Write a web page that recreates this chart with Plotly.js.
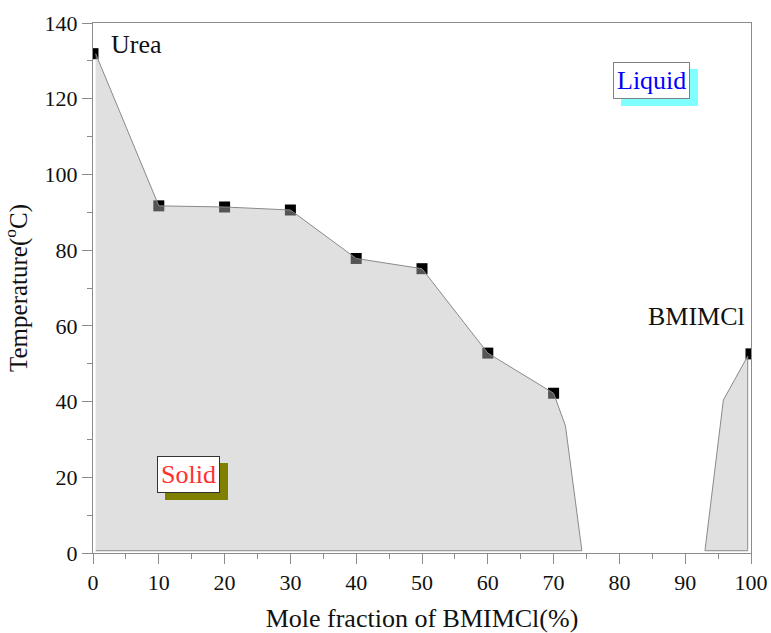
<!DOCTYPE html>
<html>
<head>
<meta charset="utf-8">
<script src="https://cdn.plot.ly/plotly-3.0.1.min.js"></script>
<style>html,body{margin:0;padding:0;background:#fff;}#chart{width:771px;height:633px;}</style>
</head>
<body>
<div id="chart"></div>
<script>
// Measured compositions (mol % BMIMCl) and melting temperatures (°C)
const moleFraction = [0, 10, 20, 30, 40, 50, 60, 70, 100];
const meltingTemp = [131.9, 91.7, 91.4, 90.6, 77.8, 75.1, 52.8, 42.2, 52.6];

// Solid-region boundary, urea-rich side
const solidLeftX = [0.4, 10, 20, 30, 40, 50, 60, 70, 71.8, 74.3];
const solidLeftY = [131.9, 91.7, 91.4, 90.6, 77.8, 75.1, 52.8, 42.2, 33.6, 0.6];

// Solid-region boundary, BMIMCl-rich side
const solidRightX = [93.0, 95.8, 99.5, 99.5];
const solidRightY = [0.6, 40.4, 52.0, 0.6];

const xTicks = [0, 10, 20, 30, 40, 50, 60, 70, 80, 90, 100];
const yTicks = [0, 20, 40, 60, 80, 100, 120, 140];

const FONT = '"Liberation Serif", serif';
const fillCol = 'rgba(187,187,187,0.455)';
const edgeCol = '#8a8a8a';

const traces = [
  {
    x: moleFraction, y: meltingTemp, type: 'scatter', mode: 'markers',
    marker: {symbol: 'square', size: 11, color: '#000'},
    cliponaxis: true, hoverinfo: 'x+y', showlegend: false
  },
  {
    x: solidLeftX.concat([solidLeftX[0]]),
    y: solidLeftY.concat([solidLeftY[solidLeftY.length - 1]]),
    type: 'scatter', mode: 'lines', fill: 'toself', fillcolor: fillCol,
    line: {color: edgeCol, width: 1}, hoverinfo: 'skip', showlegend: false
  },
  {
    x: solidRightX.concat([solidRightX[0]]),
    y: solidRightY.concat([solidRightY[0]]),
    type: 'scatter', mode: 'lines', fill: 'toself', fillcolor: fillCol,
    line: {color: edgeCol, width: 1}, hoverinfo: 'skip', showlegend: false
  }
];

function boxLabel(text, x, y, color, shadow, border) {
  return [
    {x: x, y: y, xref: 'x', yref: 'y', text: text, showarrow: false,
     xshift: 7.5, yshift: -7.5,
     font: {family: FONT, size: 26, color: shadow}, bgcolor: shadow,
     borderpad: 3, borderwidth: 1, bordercolor: shadow},
    {x: x, y: y, xref: 'x', yref: 'y', text: text, showarrow: false,
     font: {family: FONT, size: 26, color: color}, bgcolor: '#ffffff',
     borderpad: 3, borderwidth: 1, bordercolor: border}
  ];
}

const annotations = [
  {x: 2.5, y: 134.4, xref: 'x', yref: 'y', text: 'Urea', showarrow: false,
   xanchor: 'left', yanchor: 'middle', font: {family: FONT, size: 26, color: '#111'}},
  {x: 99.4, y: 62.6, xref: 'x', yref: 'y', text: 'BMIMCl', showarrow: false,
   xanchor: 'right', yanchor: 'middle', font: {family: FONT, size: 26, color: '#111'}}
].concat(boxLabel('Liquid', 84.95, 124.9, '#0000ff', '#80ffff', '#808080'))
 .concat(boxLabel('Solid', 14.56, 20.8, '#ff3030', '#808000', '#333333'));

const axisCommon = {
  showline: true, linecolor: '#8c8c8c', linewidth: 1, mirror: true,
  ticks: 'outside', ticklen: 10, tickcolor: '#8c8c8c', tickwidth: 1,
  showgrid: false, zeroline: false, fixedrange: true,
  tickfont: {family: FONT, size: 22, color: '#111'}
};

const layout = {
  width: 771, height: 633,
  margin: {l: 93, r: 20, t: 23, b: 80},
  paper_bgcolor: '#fff', plot_bgcolor: '#fff',
  font: {family: FONT, color: '#111'},
  xaxis: Object.assign({}, axisCommon, {
    range: [0, 100], tickmode: 'array', tickvals: xTicks,
    ticktext: xTicks.map(String),
    minor: {dtick: 5, ticks: 'outside', ticklen: 5, tickcolor: '#8c8c8c'},
    title: {text: 'Mole fraction of BMIMCl(%)', font: {family: FONT, size: 26, color: '#111'}, standoff: 14}
  }),
  yaxis: Object.assign({}, axisCommon, {
    range: [0, 140], tickmode: 'array', tickvals: yTicks,
    ticktext: yTicks.map(String),
    minor: {dtick: 10, ticks: 'outside', ticklen: 5, tickcolor: '#8c8c8c'},
    title: {text: 'Temperature(<sup>o</sup>C)', font: {family: FONT, size: 25, color: '#111'}, standoff: 12}
  }),
  annotations: annotations,
  showlegend: false
};

Plotly.newPlot('chart', traces, layout, {displayModeBar: false, staticPlot: true});
</script>
</body>
</html>
